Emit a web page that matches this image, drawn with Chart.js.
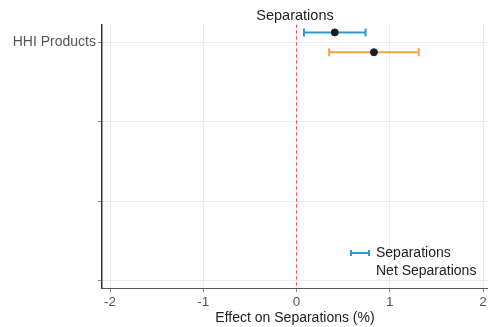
<!DOCTYPE html>
<html><head><meta charset="utf-8">
<script src="https://cdn.jsdelivr.net/npm/chart.js@4"></script>
<style>html,body{margin:0;padding:0;background:#fff;overflow:hidden}#w{width:488px;height:327px;overflow:hidden}</style>
</head><body><div id="w"><canvas id="c" width="494" height="327"></canvas></div>
<script>
const categories = ["HHI Products", "", "", ""];
const seriesNames = ["Separations", "Net Separations"];
const estimates = [0.41, 0.83];
const ciLow = [0.08, 0.35];
const ciHigh = [0.74, 1.31];
const xTicks = [-2, -1, 0, 1, 2];

const colors = ['#2a9dcc', '#f8a044'];
const offs = [-0.125, 0.125];
const FONT = "'Liberation Sans', Arial, sans-serif";

const datasets = [];
datasets.push({type:'line', data:[{x:0,y:-0.3},{x:0,y:3.2}], borderColor:'#e0484a', borderWidth:1, borderDash:[3,3], pointRadius:0, order:5});
seriesNames.forEach((n,i)=>{
  const y = 0 + offs[i];
  datasets.push({type:'line', label:n, data:[{x:ciLow[i],y},{x:ciHigh[i],y}], borderColor:colors[i], borderWidth:2,
    pointStyle:'line', rotation:90, pointRadius:4, pointBorderColor:colors[i], pointBorderWidth:2, order:2});
  datasets.push({type:'scatter', data:[{x:estimates[i],y}], backgroundColor:'#1c1c1c', borderColor:'#1c1c1c', pointRadius:3.5, order:1});
});

const legendPlugin = {
  id:'customLegend',
  afterDraw(chart){
    const ctx = chart.ctx; const a = chart.chartArea;
    ctx.save();
    ctx.font = "14px " + FONT; ctx.fillStyle = '#222'; ctx.textBaseline='middle';
    const x0 = a.right - 137, y0 = a.bottom - 35;
    ctx.strokeStyle = colors[0]; ctx.lineWidth = 2;
    ctx.beginPath(); ctx.moveTo(x0, y0); ctx.lineTo(x0+18, y0); ctx.stroke();
    ctx.beginPath(); ctx.moveTo(x0, y0-3); ctx.lineTo(x0, y0+3); ctx.moveTo(x0+18, y0-3); ctx.lineTo(x0+18, y0+3); ctx.stroke();
    ctx.fillText(seriesNames[0], x0+25, y0);
    ctx.fillText(seriesNames[1], x0+25, y0+18);
    ctx.restore();
  }
};

new Chart(document.getElementById('c'), {
  data:{datasets},
  options:{
    responsive:false, animation:false,
    layout:{padding:{left:0,right:0,top:0,bottom:0}},
    plugins:{legend:{display:false}, tooltip:{enabled:false},
      title:{display:true, fullSize:false, text:'Separations', font:{family:FONT,size:14.5,weight:'normal'}, color:'#222', padding:{top:7,bottom:0}}},
    scales:{
      x:{type:'linear', min:-2.086, max:2.053,
        afterBuildTicks(s){ s.ticks = xTicks.map(v=>({value:v})); },
        ticks:{font:{family:FONT,size:13.5}, color:'#555', padding:2, callback:v=>String(v)},
        grid:{color:'#ececec', tickColor:'#888', tickLength:4, drawOnChartArea:true},
        border:{color:'#555', width:1},
        title:{display:true, text:'Effect on Separations (%)', font:{family:FONT,size:14}, color:'#222', padding:{top:-2,bottom:0}}
      },
      y:{type:'linear', reverse:true, min:-0.226, max:3.095,
        afterBuildTicks(s){ s.ticks = categories.map((c,i)=>({value:i})); },
        afterFit(s){ s.width = 102; },
        ticks:{font:{family:FONT,size:14}, color:'#555', padding:2, callback:(v)=>categories[v] ?? ''},
        grid:{color:'#ececec', tickColor:'#888', tickLength:4},
        border:{color:'#333', width:1.5}
      }
    }
  },
  plugins:[legendPlugin]
});
</script></body></html>
